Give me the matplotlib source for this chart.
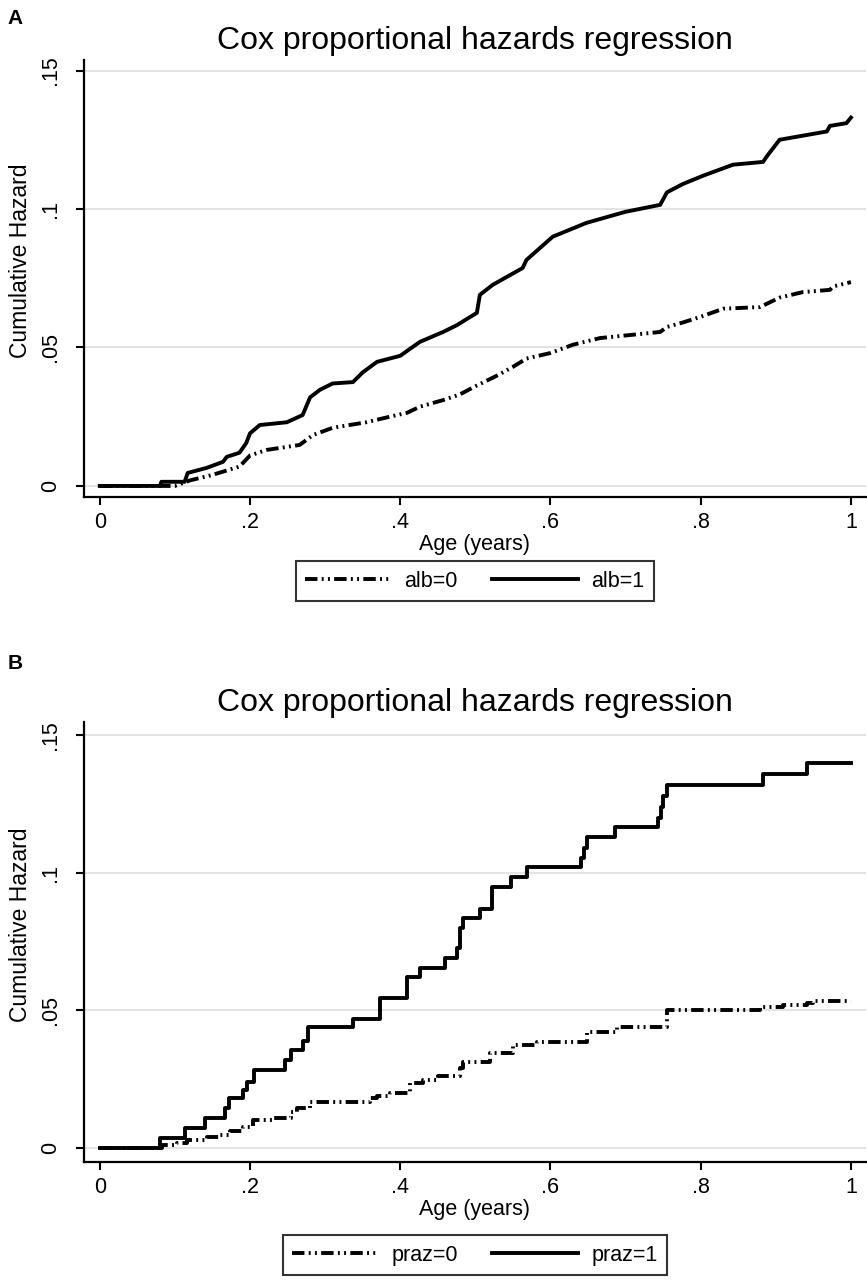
import matplotlib
matplotlib.use('Agg')
import matplotlib.pyplot as plt

plt.rcParams['font.family'] = ['Liberation Sans', 'DejaVu Sans']

# panel A: cumulative hazard by albendazole
alb0_x = [0.0, 0.10, 0.12, 0.15, 0.186, 0.20, 0.222, 0.266, 0.284, 0.31, 0.355, 0.386,
          0.409, 0.426, 0.457, 0.479, 0.50, 0.53, 0.55, 0.568, 0.60, 0.63, 0.666, 0.706,
          0.746, 0.755, 0.776, 0.799, 0.83, 0.879, 0.905, 0.936, 0.972, 0.976, 1.0]
alb0_y = [0.0, 0.0, 0.002, 0.004, 0.007, 0.011, 0.013, 0.0148, 0.0184, 0.021, 0.023, 0.025,
          0.0264, 0.0286, 0.031, 0.033, 0.036, 0.040, 0.043, 0.046, 0.048, 0.051, 0.0534, 0.0545,
          0.0556, 0.0574, 0.059, 0.061, 0.064, 0.0646, 0.068, 0.070, 0.0708, 0.072, 0.0736]

alb1_x = [0.0, 0.08, 0.082, 0.113, 0.117, 0.142, 0.164, 0.169, 0.186, 0.195, 0.20, 0.213, 0.249, 0.27,
          0.28, 0.293, 0.31, 0.337, 0.35, 0.369, 0.40, 0.426, 0.457, 0.475, 0.502, 0.506, 0.523,
          0.563, 0.568, 0.603, 0.648, 0.70, 0.746, 0.755, 0.776, 0.803, 0.843, 0.883, 0.888,
          0.905, 0.968, 0.972, 0.994, 1.0]
alb1_y = [0.0, 0.0, 0.0015, 0.0015, 0.0047, 0.0065, 0.0087, 0.0105, 0.012, 0.0155, 0.019, 0.022, 0.023, 0.0256,
          0.032, 0.0347, 0.037, 0.0375, 0.041, 0.0448, 0.047, 0.052, 0.0556, 0.058, 0.0625, 0.069, 0.0726,
          0.0787, 0.0816, 0.090, 0.095, 0.099, 0.1015, 0.106, 0.109, 0.112, 0.116, 0.117, 0.119,
          0.125, 0.128, 0.130, 0.131, 0.133]

# panel B: cumulative hazard by praziquantel
praz0_x = [0.0, 0.083, 0.103, 0.116, 0.143, 0.16, 0.174, 0.191, 0.204, 0.231, 0.254, 0.262,
           0.28, 0.36, 0.369, 0.387, 0.413, 0.43, 0.45, 0.479, 0.484, 0.52, 0.55, 0.582,
           0.648, 0.688, 0.755, 0.879, 0.91, 0.941, 0.95, 1.0]
praz0_y = [0.0, 0.001, 0.0018, 0.003, 0.004, 0.0047, 0.006, 0.0076, 0.010, 0.011, 0.013, 0.0145,
           0.0167, 0.018, 0.019, 0.020, 0.0236, 0.0247, 0.026, 0.029, 0.0313, 0.0345, 0.0375, 0.0385,
           0.042, 0.044, 0.050, 0.0513, 0.052, 0.0527, 0.0535, 0.0535]

praz1_x = [0.0, 0.08, 0.114, 0.14, 0.167, 0.172, 0.191, 0.196, 0.205, 0.247, 0.254, 0.271,
           0.277, 0.337, 0.373, 0.409, 0.426, 0.46, 0.475, 0.48, 0.484, 0.506, 0.522, 0.548,
           0.569, 0.641, 0.644, 0.648, 0.686, 0.743, 0.747, 0.75, 0.755, 0.883, 0.941, 1.0]
praz1_y = [0.0, 0.0036, 0.0073, 0.011, 0.0145, 0.018, 0.021, 0.024, 0.0284, 0.032, 0.0356, 0.039,
           0.044, 0.047, 0.0545, 0.062, 0.0655, 0.069, 0.0727, 0.080, 0.0836, 0.087, 0.095, 0.0985,
           0.102, 0.1055, 0.109, 0.113, 0.1167, 0.120, 0.124, 0.128, 0.132, 0.136, 0.140, 0.140]

xticks = [0, 0.2, 0.4, 0.6, 0.8, 1.0]
xticklabels = ['0', '.2', '.4', '.6', '.8', '1']
yticks = [0, 0.05, 0.1, 0.15]
yticklabels = ['0', '.05', '.1', '.15']

DASHDOT = (3.2, 1.1, 0.5, 1.1, 0.5, 1.1)

fig = plt.figure(figsize=(8.67, 12.82), dpi=100)
axA = fig.add_axes([0.0969, 0.6123, 0.9019, 0.3409])
axB = fig.add_axes([0.0969, 0.0936, 0.9019, 0.3432])


def style(ax, ylim, legtop, leglabels, fs_leg, hl):
    ax.set_xlim(-0.021, 1.02)
    ax.set_ylim(*ylim)
    for s in ['top', 'right']:
        ax.spines[s].set_visible(False)
    for s in ['left', 'bottom']:
        ax.spines[s].set_linewidth(1.6)
    ax.set_xticks(xticks)
    ax.set_xticklabels(xticklabels, fontsize=15.5)
    ax.set_yticks(yticks)
    ax.set_yticklabels(yticklabels, fontsize=15.5, rotation=90, va='center')
    ax.tick_params(direction='out', length=5.5, width=1.5, pad=5)
    ax.tick_params(axis='y', pad=11)
    ax.grid(axis='y', color='#dedede', linewidth=1.2)
    ax.set_axisbelow(True)
    ax.set_title('Cox proportional hazards regression', fontsize=23, pad=8)
    ax.set_xlabel('Age (years)', fontsize=15.5, labelpad=1)
    ax.set_ylabel('Cumulative Hazard', fontsize=16.5)
    ax.yaxis.set_label_coords(-0.067, 0.54)
    leg = ax.legend(leglabels, loc='upper center', bbox_to_anchor=(0.5, legtop), ncol=2,
                    frameon=True, fancybox=False, edgecolor='black', fontsize=fs_leg,
                    handlelength=hl, handletextpad=0.6, columnspacing=1.6,
                    borderpad=0.45, borderaxespad=0)
    leg.get_frame().set_linewidth(1.5)


axA.plot(alb0_x, alb0_y, color='black', linewidth=2.8,
         dashes=DASHDOT, dash_capstyle='butt')
axA.plot(alb1_x, alb1_y, color='black', linewidth=2.8)
style(axA, (-0.004, 0.1538), -0.146, ['alb=0', 'alb=1'], 15.5, 4.0)

axB.step(praz0_x, praz0_y, where='post', color='black', linewidth=2.8,
         dashes=DASHDOT, dash_capstyle='butt')
axB.step(praz1_x, praz1_y, where='post', color='black', linewidth=2.8)
style(axB, (-0.0051, 0.1549), -0.166, ['praz=0', 'praz=1'], 15.5, 4.0)

fig.text(0.009, 0.993, 'A', fontsize=15, fontweight='bold', va='top')
fig.text(0.009, 0.490, 'B', fontsize=15, fontweight='bold', va='top')

fig.savefig('out.png', dpi=100)
